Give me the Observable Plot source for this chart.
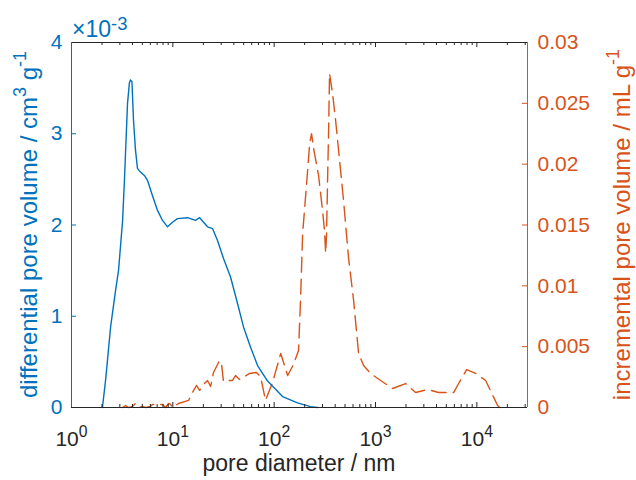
<!DOCTYPE html>
<html>
<head>
<meta charset="utf-8">
<script src="https://cdn.jsdelivr.net/npm/d3@7"></script>
<script src="https://cdn.jsdelivr.net/npm/@observablehq/plot@0.6"></script>
<style>
  html, body { margin: 0; padding: 0; background: #fff; }
</style>
</head>
<body>
<div id="chart"></div>
<script>
// ---- data ----
// blue: differential pore volume (x1e-3 cm^3 g^-1) vs pore diameter (nm)
const blueDiam = [2.02, 2.17, 2.43, 2.72, 2.91, 3.19, 3.33, 3.57, 3.73, 3.82, 3.95, 4.09, 4.28, 4.48, 4.80, 5.26, 5.62, 6.3, 7.06, 7.91, 8.87, 9.93, 11.1, 14.0, 16.7, 18.4, 20.1, 22.0, 24.7, 27.6, 31.7, 37.1, 43.5, 49.9, 58.5, 68.6, 86.1, 121, 170, 229, 269];
const blueVal  = [0, 0.30, 0.88, 1.28, 1.50, 2.04, 2.49, 3.33, 3.56, 3.59, 3.57, 3.15, 2.82, 2.62, 2.58, 2.54, 2.49, 2.32, 2.16, 2.05, 1.98, 2.03, 2.07, 2.08, 2.05, 2.08, 2.03, 1.98, 1.96, 1.83, 1.63, 1.43, 1.14, 0.88, 0.66, 0.46, 0.29, 0.12, 0.05, 0.01, 0];

// orange: incremental pore volume (mL g^-1) vs pore diameter (nm)
const orangeDiam = [3.19, 3.41, 3.65, 4.00, 4.28, 4.58, 5.02, 5.38, 6.02, 6.3, 7.06, 7.91, 8.47, 9.07, 9.49, 9.93, 11.4, 14.3, 15.6, 17.1, 18.4, 20.1, 22.0, 23.6, 25.2, 28.9, 30.3, 31.6, 35.5, 38.8, 41.6, 45.5, 57.2, 67.0, 73.4, 82.2, 96.4, 116, 136, 155, 174, 182, 191, 200, 214, 224, 234, 245, 274, 300, 314, 322, 329, 337, 345, 352, 377, 404, 452, 484, 542, 608, 681, 763, 895, 1123, 1475, 1983, 2488, 3267, 4196, 5901, 6612, 7930, 9725, 12210, 16040, 16800];
const orangeVal  = [0, 0.00016, 0, 0.00008, 0.00033, 0, 0.00008, 0, 0.00008, 0.00025, 0.00025, 0.00025, 0, 0.00033, 0.00025, 0, 0.00033, 0.00058, 0.00123, 0.00181, 0.0014, 0.00189, 0.00222, 0.00173, 0.00288, 0.00386, 0.00353, 0.00214, 0.00222, 0.00222, 0.00263, 0.0023, 0.0028, 0.00288, 0.00255, 0.00058, 0.00205, 0.00444, 0.00263, 0.00353, 0.00469, 0.0088, 0.0143, 0.0164, 0.0195, 0.0217, 0.0225, 0.0213, 0.0191, 0.0162, 0.01455, 0.0127, 0.0143, 0.0189, 0.0230, 0.02745, 0.0258, 0.0236, 0.0195, 0.0170, 0.0123, 0.0088, 0.00444, 0.00345, 0.0028, 0.00222, 0.00156, 0.00197, 0.00123, 0.00148, 0.00123, 0.00123, 0.00197, 0.00312, 0.0028, 0.00222, 0.00016, 0];

// ticks
const xMajorTicks = [1, 10, 100, 1000, 10000];
const xMinorSteps = [2, 3, 4, 5, 6, 7, 8, 9];
const leftTicks = [0, 1, 2, 3, 4];            // x 1e-3
const leftTickLabels = ["0", "1", "2", "3", "4"];
const rightTicks = [0, 0.005, 0.01, 0.015, 0.02, 0.025, 0.03];
const rightTickLabels = ["0", "0.005", "0.01", "0.015", "0.02", "0.025", "0.03"];

// text
const xLabel = "pore diameter / nm";
const yLeftLabel = [["differential pore volume / cm", 0], ["3", 1], [" g", 0], ["-1", 1]];
const yRightLabel = [["incremental pore volume / mL g", 0], ["-1", 1]];
const exponentLabel = [["\u00d710", 0], ["-3", 1]];

// ---- styling / layout ----
const W = 636, H = 480;
const mL = 71, mR = 109, mT = 42, mB = 73;
const frameW = W - mL - mR, frameH = H - mT - mB;
const BLUE = "#0072BD", ORANGE = "#D95319", GRAY = "#262626";
const FONT = "'Liberation Sans', Arial, Helvetica, sans-serif";
const TICK_FS = 21, LABEL_FS = 23;
const MAJOR = 5, MINOR = 3;
const xMax = Math.pow(10, 4.5);
const yMax = 4, y2Max = 0.03;
const k = yMax / y2Max; // maps right-axis values onto the left scale

const blueData = blueDiam.map((d, i) => ({d, v: blueVal[i]}));
const orangeData = orangeDiam.map((d, i) => ({d, v: orangeVal[i] * k}));
const xMinorTicks = xMajorTicks.flatMap(m => xMinorSteps.map(s => m * s)).filter(v => v < xMax);
const rightTickPos = rightTicks.map(t => t * k);

const chart = Plot.plot({
  width: W, height: H,
  marginLeft: mL, marginRight: mR, marginTop: mT, marginBottom: mB,
  style: {fontFamily: FONT, fontSize: TICK_FS + "px", color: GRAY, background: "white", overflow: "visible"},
  x: {type: "log", domain: [1, xMax]},
  y: {domain: [0, yMax]},
  marks: [
    Plot.line(orangeData, {x: "d", y: "v", stroke: ORANGE, strokeWidth: 1.4, strokeDasharray: "15,7"}),
    Plot.line(blueData, {x: "d", y: "v", stroke: BLUE, strokeWidth: 1.4}),
    // inward ticks (bottom / top)
    Plot.ruleX(xMinorTicks, {stroke: GRAY, insetTop: frameH - MINOR}),
    Plot.ruleX(xMinorTicks, {stroke: GRAY, insetBottom: frameH - MINOR}),
    Plot.ruleX(xMajorTicks, {stroke: GRAY, insetTop: frameH - MAJOR}),
    Plot.ruleX(xMajorTicks, {stroke: GRAY, insetBottom: frameH - MAJOR}),
    // inward ticks (left / right)
    Plot.ruleY(leftTicks, {stroke: BLUE, insetRight: frameW - MAJOR}),
    Plot.ruleY(rightTickPos, {stroke: ORANGE, insetLeft: frameW - MAJOR}),
    // box
    Plot.ruleY([0], {stroke: GRAY}),
    Plot.ruleY([yMax], {stroke: GRAY}),
    Plot.ruleX([1], {stroke: BLUE}),
    Plot.ruleX([xMax], {stroke: ORANGE}),
    // tick labels
    Plot.axisX(xMajorTicks, {anchor: "bottom", tickSize: 0, tickPadding: 24, label: null, color: GRAY,
      tickFormat: d => "10^" + Math.round(Math.log10(d))}),
    Plot.axisY(leftTicks, {anchor: "left", tickSize: 0, tickPadding: 9, label: null, color: BLUE,
      tickFormat: d => leftTickLabels[leftTicks.indexOf(d)]}),
    Plot.axisY(rightTickPos, {anchor: "right", tickSize: 0, tickPadding: 10, label: null, color: ORANGE,
      tickFormat: d => rightTickLabels[rightTickPos.indexOf(d)]})
  ]
});

document.getElementById("chart").appendChild(chart);
const svg = d3.select(chart);

// superscript helper
function writeParts(sel, parts, fs, scale = 0.75, riseK = 0.45) {
  const supFs = fs * scale, rise = fs * riseK;
  let raised = false;
  parts.forEach(([txt, sup]) => {
    const t = sel.append("tspan").text(txt);
    if (sup && !raised) { t.attr("dy", -rise).attr("font-size", supFs); raised = true; }
    else if (sup) { t.attr("font-size", supFs); }
    else if (!sup && raised) { t.attr("dy", rise); raised = false; }
  });
}

// x tick labels with superscript exponents
svg.selectAll("text").each(function () {
  const m = /^10\^(-?\d+)$/.exec(this.textContent);
  if (m) {
    const s = d3.select(this);
    s.text("");
    writeParts(s, [["10", 0], [m[1], 1]], TICK_FS);
  }
});

// axis titles
svg.append("text")
  .attr("x", (mL + W - mR) / 2).attr("y", 471)
  .attr("text-anchor", "middle").attr("fill", GRAY)
  .attr("font-family", FONT).attr("font-size", LABEL_FS)
  .text(xLabel);

const yl = svg.append("text")
  .attr("transform", `translate(37,${(mT + H - mB) / 2}) rotate(-90)`)
  .attr("text-anchor", "middle").attr("fill", BLUE)
  .attr("font-family", FONT).attr("font-size", 24);
writeParts(yl, yLeftLabel, 24);

const yr = svg.append("text")
  .attr("transform", `translate(630,${(mT + H - mB) / 2}) rotate(-90)`)
  .attr("text-anchor", "middle").attr("fill", ORANGE)
  .attr("font-family", FONT).attr("font-size", 24);
writeParts(yr, yRightLabel, 24);

const ex = svg.append("text")
  .attr("x", 72).attr("y", 37)
  .attr("text-anchor", "start").attr("fill", BLUE)
  .attr("font-family", FONT).attr("font-size", 23);
writeParts(ex, exponentLabel, 23, 0.8, 0.3);
</script>
</body>
</html>
